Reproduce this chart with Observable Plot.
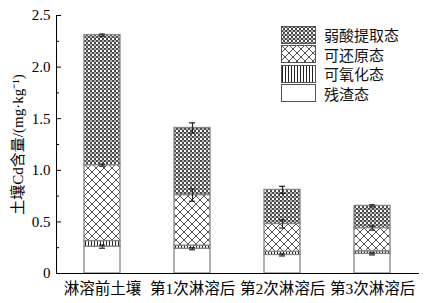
<!DOCTYPE html>
<html><head><meta charset="utf-8">
<script src="https://cdn.jsdelivr.net/npm/d3@7"></script>
<script src="https://cdn.jsdelivr.net/npm/@observablehq/plot@0.6"></script>
<style>
body{margin:0;background:#fff;}
#wrap{position:relative;width:432px;height:303px;font-family:"Liberation Serif","Noto Sans CJK SC",serif;}
.legend{position:absolute;left:281px;top:25px;}
.item{display:flex;align-items:center;height:19.5px;font-size:15px;color:#111;}
.item svg{margin-right:8px;display:block;}
</style></head><body>
<svg width="0" height="0" style="position:absolute">
<defs>
<pattern id="pWeak" patternUnits="userSpaceOnUse" width="4" height="4">
<rect width="4" height="4" fill="#fff"/>
<rect x="0" y="0" width="2" height="2" fill="#4a4a4a"/>
<rect x="2" y="2" width="2" height="2" fill="#4a4a4a"/>
<rect x="2" y="0" width="2" height="2" fill="#b0b0b0"/>
</pattern>
<pattern id="pRed" patternUnits="userSpaceOnUse" width="8" height="8">
<rect width="8" height="8" fill="#fff"/>
<path d="M0,0L8,8M8,0L0,8" stroke="#333" stroke-width="0.85"/>
</pattern>
<pattern id="pOx" patternUnits="userSpaceOnUse" width="3" height="3">
<rect width="3" height="3" fill="#fff"/>
<path d="M1.5,0V3" stroke="#222" stroke-width="1"/>
</pattern>
</defs>
</svg>
<div id="wrap"></div>
<script>
const categories = ["淋溶前土壤", "第1次淋溶后", "第2次淋溶后", "第3次淋溶后"];
const seriesNames = ["残渣态", "可氧化态", "可还原态", "弱酸提取态"];
const residual   = [0.26, 0.24, 0.18, 0.19];
const oxidizable = [0.055, 0.03, 0.03, 0.025];
const reducible  = [0.735, 0.49, 0.27, 0.225];
const weakAcid   = [1.26, 0.65, 0.33, 0.215];
const residualErr   = [0.015, 0.01, 0.01, 0.01];
const oxidizableErr = [0, 0, 0, 0];
const reducibleErr  = [0.01, 0.06, 0.04, 0.02];
const weakAcidErr   = [0.01, 0.05, 0.035, 0.01];
const yTicks = [0, 0.5, 1.0, 1.5, 2.0, 2.5];
const yMinorTicks = [0.25, 0.75, 1.25, 1.75, 2.25];
const legendOrder = ["弱酸提取态", "可还原态", "可氧化态", "残渣态"];
const patternFill = ["#fff", "url(#pOx)", "url(#pRed)", "url(#pWeak)"];

const seriesValues = [residual, oxidizable, reducible, weakAcid];
const seriesErrs = [residualErr, oxidizableErr, reducibleErr, weakAcidErr];
const table = [];
const errData = [];
categories.forEach((c, i) => {
  let cum = 0;
  seriesNames.forEach((s, j) => {
    const v = seriesValues[j][i];
    table.push({cat: c, series: s, value: v});
    cum += v;
    if (seriesErrs[j][i] > 0) errData.push({cat: c, top: cum, err: seriesErrs[j][i]});
  });
});

const chart = Plot.plot({
  width: 432, height: 303,
  marginTop: 15, marginBottom: 30, marginLeft: 56, marginRight: 14,
  style: {fontFamily: '"Liberation Serif","Noto Sans CJK SC",serif', fontSize: "14px", color: "#000", background: "#fff"},
  x: {domain: categories, paddingInner: 0.6, paddingOuter: 0.3, label: null},
  y: {domain: [0, 2.5], label: null},
  color: {domain: seriesNames, range: patternFill},
  marks: [
    Plot.barY(table, Plot.stackY({x: "cat", y: "value", fill: "series", stroke: "#858585", strokeWidth: 1.3})),
    Plot.ruleX(errData, {x: "cat", y1: d => d.top - d.err, y2: d => d.top + d.err, stroke: "#222", strokeWidth: 1.2}),
    Plot.tickY(errData, {x: "cat", y: d => d.top + d.err, insetLeft: 15, insetRight: 15, stroke: "#222", strokeWidth: 1.2}),
    Plot.tickY(errData, {x: "cat", y: d => d.top - d.err, insetLeft: 15, insetRight: 15, stroke: "#222", strokeWidth: 1.2}),
    Plot.axisX({tickSize: 0, tickPadding: 9, fontSize: 15.5, label: null}),
    Plot.axisY({ticks: yTicks, tickSize: -5, tickPadding: 11, fontSize: 15,
      tickFormat: d => d === 0 ? "0" : d.toFixed(1),
      label: "土壤Cd含量/(mg·kg⁻¹)", labelAnchor: "center", labelOffset: 44, labelArrow: "none"}),
    Plot.axisY({ticks: yMinorTicks, tickSize: -3, tickFormat: () => "", label: null}),
    Plot.frame({anchor: "left", stroke: "#000"}),
    Plot.frame({anchor: "bottom", stroke: "#000"})
  ]
});
const wrap = document.getElementById("wrap");
wrap.appendChild(chart);

const legend = document.createElement("div");
legend.className = "legend";
legendOrder.forEach(name => {
  const item = document.createElement("div");
  item.className = "item";
  const fill = patternFill[seriesNames.indexOf(name)];
  item.innerHTML = `<svg width="35" height="18"><rect x="0.5" y="0.5" width="34" height="17" fill="${fill}" stroke="#555" stroke-width="1"/></svg><span>${name}</span>`;
  legend.appendChild(item);
});
wrap.appendChild(legend);
</script>
</body></html>
